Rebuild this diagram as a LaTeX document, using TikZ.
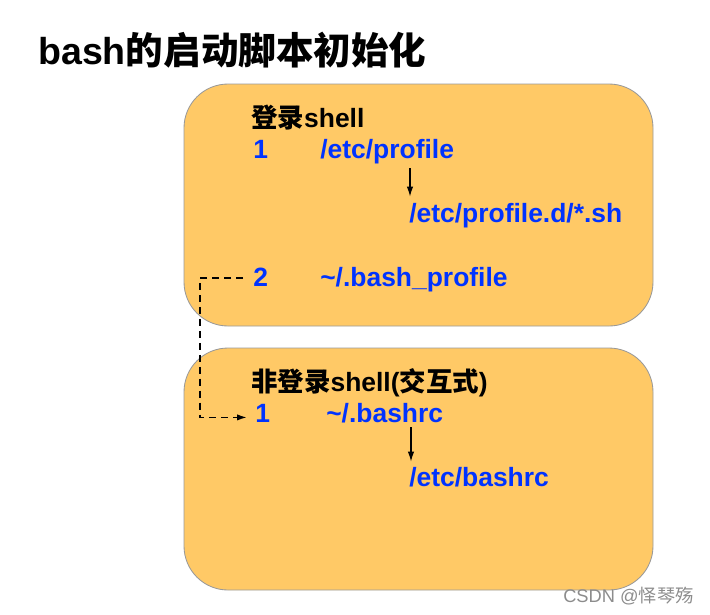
\documentclass[tikz,border=0pt]{standalone}
\usepackage{fontspec}
\setmainfont{Liberation Sans}
\newfontfamily\cjk{Noto Sans CJK SC}
\usetikzlibrary{arrows.meta}
\definecolor{boxorange}{RGB}{255,201,102}
\definecolor{pathblue}{RGB}{0,51,255}

\begin{document}
\begin{tikzpicture}[x=0.025cm, y=-0.025cm,
    txt/.style={anchor=base west, inner sep=0pt, font=\fontsize{18.8}{22}\selectfont\bfseries},
    blu/.style={txt, text=pathblue},
    panel/.style={draw=black!40, line width=0.6pt, fill=boxorange, rounded corners=1.1cm},
    arr/.style={-{Latex[length=7pt,width=4.5pt]}, line width=0.8pt},
    jump/.style={-{Latex[length=7pt,width=4.5pt]}, line width=1.2pt, dash pattern=on 5pt off 3.5pt}]
  \useasboundingbox (0,0) rectangle (710,614);

  % Title
  \node[txt, font=\fontsize{26.7}{30}\selectfont\bfseries] (title) at (38,64) {bash{\cjk 的启动脚本初始化}};

  % Panels
  \draw[panel] (184,84) rectangle (653,326);
  \draw[panel] (184,348) rectangle (653,590);

  % Login shell
  \node[txt] (login) at (251,127) {{\cjk 登录}shell};
  \node[blu] (one) at (253,158) {1};
  \node[blu] (prof) at (320,158) {/etc/profile};
  \node[blu] (profd) at (409,222) {/etc/profile.d/*.sh};
  \node[blu] (two) at (253,286) {2};
  \node[blu] (bprof) at (320,286) {\textasciitilde/.bash\_profile};

  % Non-login shell
  \node[txt] (nologin) at (251,391) {{\cjk 非登录}shell({\cjk 交互式})};
  \node[blu] (onerc) at (255,422) {1};
  \node[blu] (brc) at (326,422) {\textasciitilde/.bashrc};
  \node[blu] (etcrc) at (409,486) {/etc/bashrc};

  % Arrows
  \draw[arr] ([shift={(1,4.5)}]profd.west |- prof.south) -- ([shift={(1,-6)}]profd.north west);
  \draw[arr] ([shift={(2,4.5)}]etcrc.west |- brc.south) -- ([shift={(2,-5)}]etcrc.north west);
  \draw[jump] ([shift={(-10,1.5)}]two.west) -- ++(-43,0) |- ([shift={(-8,4.5)}]onerc.west);

  % Watermark
  \node[anchor=base west, inner sep=0pt, text=black!45, font=\fontsize{13}{15}\selectfont] (mark) at (563,602) {CSDN @{\cjk 怿琴殇}};
\end{tikzpicture}
\end{document}
